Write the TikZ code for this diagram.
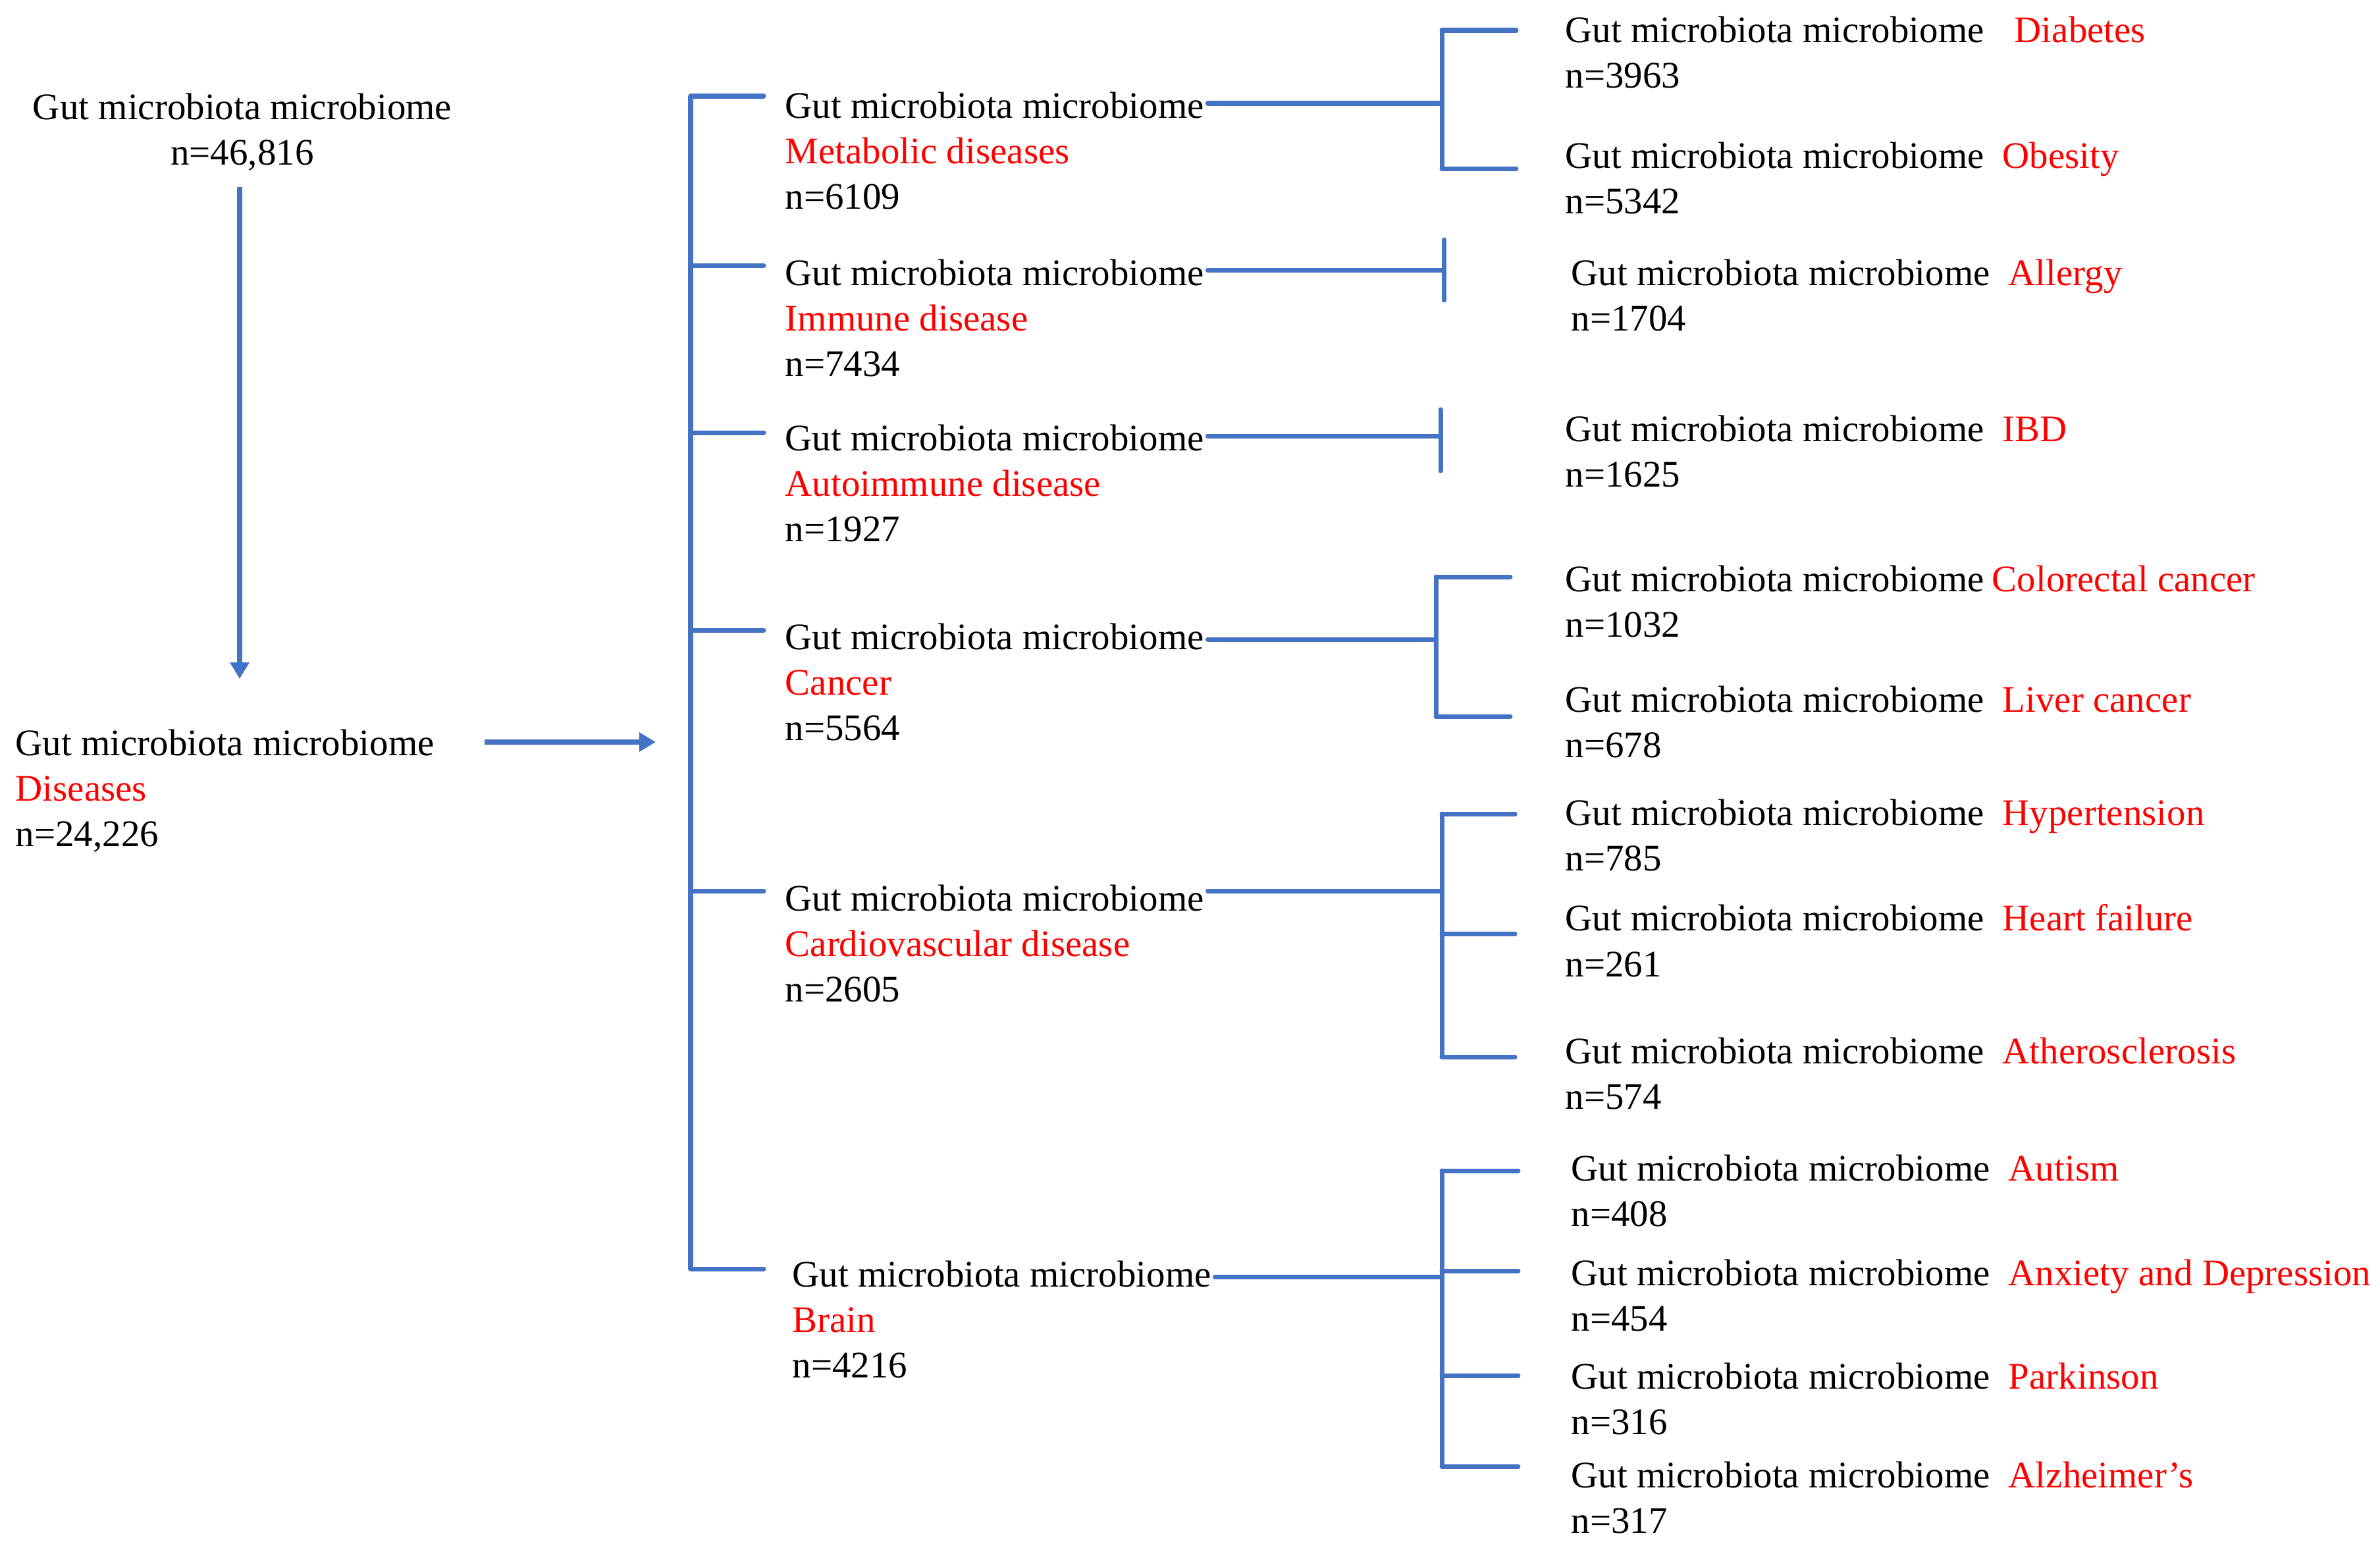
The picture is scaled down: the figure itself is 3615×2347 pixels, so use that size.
\documentclass[tikz,border=0pt]{standalone}
\usepackage{fontspec}
\setmainfont{Liberation Serif}
\usetikzlibrary{positioning,calc,arrows.meta}
\tikzset{>={Triangle[length=2.5mm,width=2.8mm]}}
\definecolor{linkblue}{RGB}{68,114,196}

\begin{document}
\begin{tikzpicture}[
    x=0.01cm, y=-0.01cm,
    every node/.style={inner sep=0pt, font=\fontsize{16.2}{19.7}\selectfont},
    group/.style={anchor=north west, align=left},
    leaf/.style={anchor=north west, align=left},
    link/.style={color=linkblue, line width=2pt, line cap=round},
    flow/.style={->, color=linkblue, line width=2.2pt}
]
\useasboundingbox (0,0) rectangle (3615,2347);

% left column
\node[anchor=north, align=center] (root) at (368,141) {Gut microbiota microbiome\\n=46,816};
\node[group] (dis) at (23,1107) {Gut microbiota microbiome\\\textcolor{red}{Diseases}\\n=24,226};

% disease groups
\node[group] (meta) at (1192,139) {Gut microbiota microbiome\\\textcolor{red}{Metabolic diseases}\\n=6109};
\node[group] (immune) at (1192,393) {Gut microbiota microbiome\\\textcolor{red}{Immune disease}\\n=7434};
\node[group] (autoimm) at (1192,644) {Gut microbiota microbiome\\\textcolor{red}{Autoimmune disease}\\n=1927};
\node[group] (cancer) at (1192,946) {Gut microbiota microbiome\\\textcolor{red}{Cancer}\\n=5564};
\node[group] (cardio) at (1192,1343) {Gut microbiota microbiome\\\textcolor{red}{Cardiovascular disease}\\n=2605};
\node[group] (brain) at (1203,1914) {Gut microbiota microbiome\\\textcolor{red}{Brain}\\n=4216};

% single diseases
\node[leaf] (diab) at (2377,24) {Gut microbiota microbiome\hspace{0.46cm}\textcolor{red}{Diabetes}\\n=3963};
\node[leaf] (obes) at (2377,215) {Gut microbiota microbiome\hspace{0.28cm}\textcolor{red}{Obesity}\\n=5342};
\node[leaf] (allergy) at (2386,393) {Gut microbiota microbiome\hspace{0.28cm}\textcolor{red}{Allergy}\\n=1704};
\node[leaf] (ibd) at (2377,630) {Gut microbiota microbiome\hspace{0.28cm}\textcolor{red}{IBD}\\n=1625};
\node[leaf] (colo) at (2377,858) {Gut microbiota microbiome\hspace{0.12cm}\textcolor{red}{Colorectal cancer}\\n=1032};
\node[leaf] (liver) at (2377,1041) {Gut microbiota microbiome\hspace{0.28cm}\textcolor{red}{Liver cancer}\\n=678};
\node[leaf] (hyper) at (2377,1213) {Gut microbiota microbiome\hspace{0.28cm}\textcolor{red}{Hypertension}\\n=785};
\node[leaf] (heart) at (2377,1373) {Gut microbiota microbiome\hspace{0.28cm}\textcolor{red}{Heart failure}\\n=261};
\node[leaf] (athero) at (2377,1575) {Gut microbiota microbiome\hspace{0.28cm}\textcolor{red}{Atherosclerosis}\\n=574};
\node[leaf] (autism) at (2386,1753) {Gut microbiota microbiome\hspace{0.28cm}\textcolor{red}{Autism}\\n=408};
\node[leaf] (anxiety) at (2386,1912) {Gut microbiota microbiome\hspace{0.28cm}\textcolor{red}{Anxiety and Depression}\\n=454};
\node[leaf] (parkin) at (2386,2069) {Gut microbiota microbiome\hspace{0.28cm}\textcolor{red}{Parkinson}\\n=316};
\node[leaf] (alz) at (2386,2219) {Gut microbiota microbiome\hspace{0.28cm}\textcolor{red}{Alzheimer's}\\n=317};

% bracket positions
\coordinate (spine) at (1049,145);
\coordinate (bm) at (2190,46);
\coordinate (bi) at (2193,364);
\coordinate (ba) at (2188,622);
\coordinate (bc) at (2181,876);
\coordinate (bv) at (2190,1236);
\coordinate (bb) at (2190,1778);

% arrows
\draw[flow] ($(root.south)+(-4,24)$) -- ($(root.south |- dis.north)+(-4,-76)$);
\draw[flow, line width=2.4pt] ($(dis.north east)+(76,20)$) -- ($(dis.north east -| spine)+(-53,20)$);

% main bracket
\draw[link] ($(meta.north west -| spine)+(0,7)$) -- ($(brain.north west -| spine)+(0,13)$);
\foreach \n/\d/\e in {meta/7/-32, immune/10/-32, autoimm/13/-32, cancer/11/-32, cardio/10/-32, brain/13/-43}
  \draw[link] ($(\n.north west -| spine)+(0,\d)$) -- ($(\n.north west)+(\e,\d)$);

% group links
\foreach \n/\d/\b in {meta/18/bm, immune/17/bi, autoimm/18/ba, cancer/25/bc, cardio/10/bv, brain/25/bb}
  \draw[link] ($(\n.north east)+(5,\d)$) -- ($(\n.north east -| \b)+(0,\d)$);

% sub brackets
\draw[link] ($(diab.north west -| bm)+(0,22)$) -- ($(obes.north west -| bm)+(0,41)$);
\draw[link] (bi) -- ++(0,92);
\draw[link] (ba) -- ++(0,93);
\draw[link] ($(colo.north west -| bc)+(0,18)$) -- ($(liver.north west -| bc)+(0,47)$);
\draw[link] ($(hyper.north west -| bv)+(0,23)$) -- ($(athero.north west -| bv)+(0,30)$);
\draw[link] ($(autism.north west -| bb)+(0,25)$) -- ($(alz.north west -| bb)+(0,8)$);
\foreach \l/\d/\b/\e in {diab/22/bm/-74, obes/41/bm/-74, colo/18/bc/-83, liver/47/bc/-83,
    hyper/23/bv/-76, heart/45/bv/-76, athero/30/bv/-76,
    autism/25/bb/-80, anxiety/18/bb/-80, parkin/20/bb/-80, alz/8/bb/-80}
  \draw[link] ($(\l.north west -| \b)+(0,\d)$) -- ($(\l.north west)+(\e,\d)$);
\end{tikzpicture}
\end{document}
